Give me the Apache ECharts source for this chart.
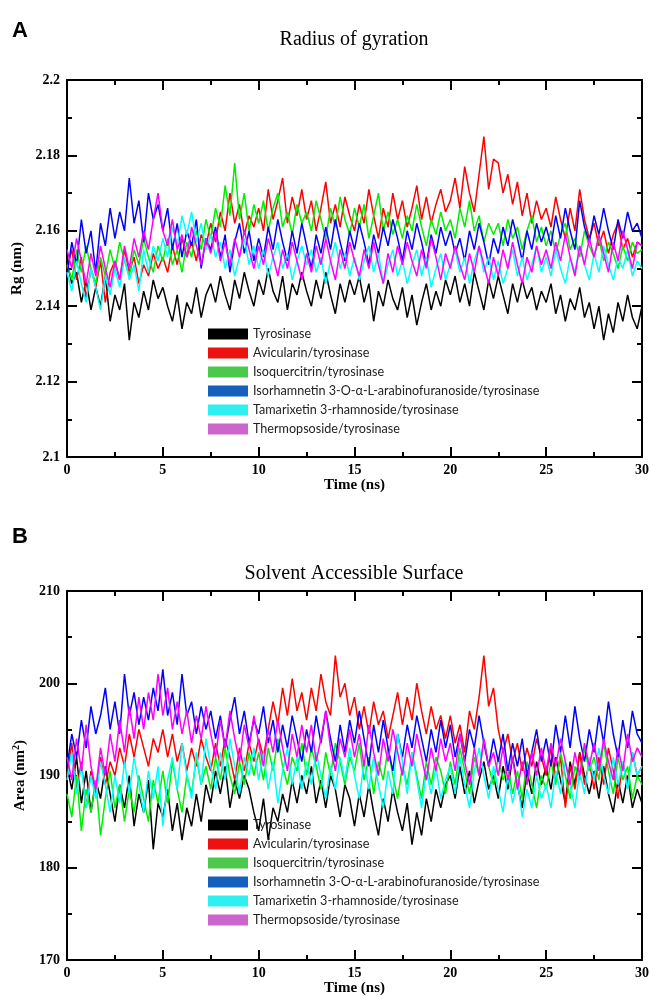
<!DOCTYPE html>
<html>
<head>
<meta charset="utf-8">
<script src="https://cdn.jsdelivr.net/npm/echarts@6/dist/echarts.min.js"></script>
<style>
    html, body { margin: 0; padding: 0; background: #fff; }
    #chart { width: 653px; height: 997px; }
</style>
</head>
<body>
<div id="chart"></div>
<script>
// 时间轴：0–30 ns，每 0.25 ns 取一个点
const time = Array.from({length: 121}, (_, i) => i * 0.25);

const seriesNames = [
    'Tyrosinase',
    'Avicularin/tyrosinase',
    'Isoquercitrin/tyrosinase',
    'Isorhamnetin 3-O-\u03b1-L-arabinofuranoside/tyrosinase',
    'Tamarixetin 3-rhamnoside/tyrosinase',
    'Thermopsoside/tyrosinase'
];

// A: Radius of gyration (nm)
const rgTyr = [
    2.152, 2.146, 2.149, 2.141, 2.147, 2.139, 2.145, 2.140, 2.148, 2.136,
    2.143, 2.139, 2.146, 2.131, 2.141, 2.137, 2.144, 2.139, 2.147, 2.142,
    2.145, 2.140, 2.136, 2.143, 2.134, 2.141, 2.138, 2.145, 2.137, 2.143,
    2.146, 2.141, 2.148, 2.143, 2.139, 2.147, 2.142, 2.149, 2.144, 2.140,
    2.147, 2.143, 2.150, 2.144, 2.141, 2.148, 2.139, 2.146, 2.143, 2.149,
    2.144, 2.140, 2.147, 2.142, 2.149, 2.143, 2.138, 2.146, 2.141, 2.147,
    2.143, 2.148, 2.141, 2.146, 2.136, 2.144, 2.140, 2.147, 2.142, 2.139,
    2.145, 2.137, 2.143, 2.135, 2.141, 2.146, 2.139, 2.144, 2.140, 2.147,
    2.143, 2.148, 2.141, 2.146, 2.140, 2.149, 2.144, 2.139, 2.147, 2.142,
    2.148, 2.143, 2.138, 2.146, 2.141, 2.147, 2.142, 2.145, 2.139, 2.144,
    2.141, 2.146, 2.138, 2.143, 2.136, 2.142, 2.139, 2.145, 2.137, 2.141,
    2.134, 2.140, 2.131, 2.138, 2.133, 2.141, 2.136, 2.143, 2.137, 2.134,
    2.140
];
const rgAvi = [
    2.150, 2.155, 2.147, 2.153, 2.142, 2.150, 2.145, 2.152, 2.141, 2.149,
    2.152, 2.147, 2.155, 2.149, 2.153, 2.146, 2.151, 2.148, 2.154, 2.150,
    2.153, 2.149, 2.156, 2.151, 2.158, 2.153, 2.157, 2.152, 2.159, 2.156,
    2.162, 2.157, 2.165, 2.160, 2.170, 2.162, 2.167, 2.159, 2.164, 2.161,
    2.166, 2.160, 2.171, 2.163, 2.168, 2.174, 2.162, 2.169, 2.164, 2.171,
    2.163, 2.168, 2.160, 2.166, 2.173, 2.162, 2.167, 2.161, 2.169, 2.164,
    2.160, 2.167, 2.162, 2.171, 2.164, 2.158, 2.166, 2.161, 2.170, 2.163,
    2.168, 2.161, 2.166, 2.172, 2.163, 2.169, 2.162, 2.167, 2.171, 2.165,
    2.168, 2.174, 2.166, 2.177, 2.170, 2.165, 2.175, 2.185, 2.171, 2.179,
    2.178, 2.170, 2.175, 2.167, 2.173, 2.164, 2.170, 2.162, 2.168, 2.163,
    2.166, 2.161, 2.169, 2.163, 2.158, 2.166, 2.160, 2.171, 2.163, 2.158,
    2.162, 2.156, 2.160, 2.154, 2.159, 2.162, 2.155, 2.158, 2.153, 2.157,
    2.156
];
const rgIso = [
    2.151, 2.147, 2.155, 2.149, 2.156, 2.150, 2.146, 2.153, 2.148, 2.155,
    2.150, 2.157, 2.152, 2.148, 2.155, 2.151, 2.158, 2.153, 2.149, 2.156,
    2.152, 2.158, 2.151, 2.155, 2.149, 2.157, 2.153, 2.160, 2.155, 2.163,
    2.158, 2.166, 2.161, 2.172, 2.164, 2.178, 2.163, 2.170, 2.160, 2.167,
    2.162, 2.168, 2.160, 2.166, 2.170, 2.161, 2.165, 2.159, 2.167, 2.162,
    2.165, 2.160, 2.168, 2.163, 2.158, 2.166, 2.161, 2.169, 2.163, 2.159,
    2.166, 2.161, 2.167, 2.158, 2.164, 2.170, 2.160, 2.165, 2.159, 2.163,
    2.158, 2.164, 2.160, 2.167, 2.161, 2.156, 2.163, 2.159, 2.165, 2.160,
    2.163, 2.158, 2.166, 2.161, 2.168, 2.160, 2.164, 2.157, 2.162, 2.159,
    2.162, 2.156, 2.163, 2.158, 2.161, 2.155, 2.160, 2.164, 2.157, 2.161,
    2.156, 2.160, 2.154, 2.159, 2.162, 2.155, 2.158, 2.153, 2.160, 2.156,
    2.153, 2.158, 2.152, 2.157, 2.154, 2.150, 2.156, 2.152, 2.157, 2.154,
    2.155
];
const rgIsr = [
    2.148, 2.157, 2.151, 2.163, 2.154, 2.160, 2.149, 2.162, 2.156, 2.166,
    2.158, 2.165, 2.160, 2.174, 2.162, 2.168, 2.157, 2.170, 2.163, 2.167,
    2.160, 2.166, 2.155, 2.162, 2.153, 2.160, 2.156, 2.163, 2.150, 2.158,
    2.155, 2.161, 2.153, 2.159, 2.149, 2.157, 2.162, 2.154, 2.160, 2.152,
    2.158, 2.153, 2.161, 2.155, 2.163, 2.157, 2.152, 2.160, 2.154, 2.162,
    2.156, 2.150, 2.159, 2.154, 2.161, 2.155, 2.163, 2.157, 2.152, 2.160,
    2.155, 2.162, 2.157, 2.151, 2.159, 2.154, 2.161, 2.156, 2.163, 2.158,
    2.152, 2.160, 2.155, 2.162, 2.157, 2.151, 2.159, 2.154, 2.161, 2.156,
    2.160, 2.154, 2.158, 2.152, 2.160, 2.155, 2.162, 2.157, 2.151, 2.158,
    2.154, 2.161, 2.156, 2.163, 2.158, 2.152, 2.160, 2.155, 2.162, 2.157,
    2.161, 2.156, 2.164, 2.158, 2.166, 2.160, 2.155, 2.168, 2.161, 2.157,
    2.164, 2.159, 2.166, 2.160, 2.155, 2.163, 2.158, 2.165, 2.160, 2.162,
    2.158
];
const rgTam = [
    2.149, 2.144, 2.152, 2.146, 2.141, 2.150, 2.145, 2.139, 2.148, 2.143,
    2.150, 2.145, 2.153, 2.147, 2.151, 2.144, 2.155, 2.149, 2.156, 2.152,
    2.158, 2.153, 2.161, 2.156, 2.164, 2.159, 2.165, 2.157, 2.162, 2.155,
    2.159, 2.153, 2.157, 2.150, 2.155, 2.148, 2.153, 2.158, 2.151, 2.156,
    2.150, 2.155, 2.148, 2.153, 2.157, 2.150, 2.154, 2.147, 2.152, 2.156,
    2.151, 2.155, 2.149, 2.153, 2.146, 2.152, 2.157, 2.150, 2.154, 2.148,
    2.153, 2.147, 2.152, 2.156, 2.149, 2.154, 2.146, 2.151, 2.155, 2.148,
    2.152, 2.146, 2.151, 2.155, 2.148, 2.153, 2.145, 2.150, 2.154, 2.147,
    2.151, 2.155, 2.149, 2.153, 2.146, 2.152, 2.156, 2.149, 2.153, 2.147,
    2.152, 2.146, 2.150, 2.155, 2.148, 2.153, 2.147, 2.151, 2.156, 2.149,
    2.153, 2.148, 2.155, 2.150, 2.146, 2.153, 2.149, 2.156, 2.151, 2.147,
    2.154, 2.149, 2.156, 2.151, 2.147, 2.153, 2.150, 2.155, 2.148, 2.152,
    2.150
];
const rgThe = [
    2.155, 2.150, 2.158, 2.152, 2.146, 2.154, 2.148, 2.156, 2.150, 2.145,
    2.152, 2.147, 2.156, 2.150, 2.158, 2.153, 2.160, 2.155, 2.163, 2.170,
    2.160, 2.156, 2.163, 2.155, 2.159, 2.153, 2.161, 2.156, 2.151, 2.158,
    2.154, 2.160, 2.152, 2.157, 2.151, 2.158, 2.153, 2.160, 2.155, 2.150,
    2.156, 2.151, 2.158, 2.153, 2.148, 2.155, 2.150, 2.157, 2.152, 2.147,
    2.154, 2.149, 2.156, 2.151, 2.158, 2.152, 2.147, 2.155, 2.150, 2.157,
    2.152, 2.148, 2.155, 2.150, 2.157, 2.151, 2.146, 2.154, 2.149, 2.156,
    2.151, 2.157, 2.152, 2.148, 2.155, 2.150, 2.158, 2.153, 2.147, 2.154,
    2.150, 2.156, 2.151, 2.147, 2.154, 2.149, 2.156, 2.151, 2.146, 2.153,
    2.148, 2.155, 2.150, 2.157, 2.151, 2.146, 2.153, 2.149, 2.156, 2.151,
    2.155, 2.150, 2.157, 2.152, 2.159, 2.153, 2.148, 2.156, 2.151, 2.158,
    2.153, 2.159, 2.154, 2.149, 2.157, 2.152, 2.160, 2.155, 2.150, 2.157,
    2.156
];

// B: Solvent accessible surface area (nm^2)
const saTyr = [
    191.0, 188.5, 192.0, 187.0, 190.5, 186.0, 189.5, 187.5, 191.0, 188.0,
    185.0, 189.0, 186.5, 190.0, 184.5, 188.0, 186.0, 189.5, 182.0, 187.0,
    185.5, 188.5, 184.0, 187.0, 183.0, 186.5, 184.5, 188.0, 185.0, 189.0,
    187.0, 190.5, 188.0, 191.0, 186.5, 189.5, 187.5, 190.0, 188.5, 186.0,
    184.0, 187.5, 183.0, 186.5, 185.0, 188.0, 186.0, 189.5, 187.0, 190.0,
    188.0, 191.0, 187.0, 189.5, 186.5, 190.0, 188.5, 185.5, 189.0, 187.5,
    184.5, 188.0, 185.5, 189.0, 186.0, 183.5, 187.5, 185.0, 188.5, 186.0,
    184.0, 187.0, 182.5, 186.0, 183.5, 187.5, 185.0, 188.5, 186.5, 189.0,
    190.0, 187.5, 191.0, 188.0, 190.5, 187.0, 189.5, 191.5, 188.5, 190.0,
    187.5, 191.0, 188.5, 192.0, 189.0, 186.5, 190.5, 188.0, 191.5, 189.0,
    191.0, 188.5, 192.0, 189.5, 187.0, 191.5, 189.0, 192.5, 190.0, 188.0,
    190.5, 187.5, 191.0, 188.0, 186.0, 189.5, 187.0, 190.0, 186.5, 188.5,
    187.0
];
const saAvi = [
    190.0, 193.5, 188.5, 191.5, 186.5, 190.5, 188.0, 192.0, 189.0, 191.5,
    190.0, 193.0, 191.0, 194.5, 192.0, 195.0, 193.0, 191.0, 194.0, 192.5,
    195.0, 192.0, 194.5, 191.5, 193.5, 190.5, 193.0, 191.0, 194.0, 192.0,
    190.5, 193.5, 191.0, 194.0, 192.0, 189.5, 193.0, 190.5, 193.5, 191.5,
    194.0, 192.0, 195.0, 198.0, 195.5, 199.5, 196.5, 200.5, 197.0, 199.0,
    196.0, 199.5, 197.0, 201.0, 198.0, 196.5, 203.0, 198.5, 200.0, 196.5,
    198.5, 195.0, 197.5, 194.5, 198.0, 195.5, 197.0, 194.0, 196.5, 199.0,
    195.5, 198.5, 196.0, 200.0, 197.0, 194.5, 197.5, 195.0, 196.5, 194.0,
    196.5, 193.5, 195.5, 192.5, 197.0, 195.0, 198.5, 203.0, 197.5, 199.5,
    195.0, 192.5, 194.5, 191.5, 193.5, 190.5, 193.0, 191.0, 194.0, 192.0,
    190.0, 193.0, 189.5, 192.0, 186.5, 191.0, 188.5, 192.5, 189.0, 191.5,
    188.5, 192.0, 189.0, 193.0, 190.5, 187.5, 191.5, 189.0, 192.5, 190.0,
    191.0
];
const saIso = [
    188.0, 185.5, 190.0, 184.0, 188.5, 186.0, 189.5, 183.5, 187.5, 190.5,
    186.5, 189.0, 185.0, 188.5, 186.0, 190.0, 187.5, 185.0, 189.5, 187.0,
    190.5, 187.0, 191.5, 188.5, 186.0, 190.0, 188.0, 192.0, 189.0, 191.0,
    188.5, 192.0, 189.5, 193.0, 190.0, 188.0, 191.5, 189.0, 192.5, 190.0,
    192.5, 189.5, 193.0, 190.5, 194.0, 191.0, 189.0, 192.0, 190.5, 193.5,
    190.0, 193.0, 191.0, 188.5, 192.5, 190.0, 193.5, 191.5, 189.0, 192.0,
    190.5, 193.5, 189.5, 192.0, 188.0, 191.5, 189.5, 193.0, 190.0, 187.5,
    191.0, 189.0, 192.5, 190.0, 187.5, 191.5, 189.0, 192.0, 190.5, 188.0,
    191.5, 189.0, 193.0, 190.5, 188.0, 192.0, 190.0, 194.0, 191.0, 189.0,
    192.0, 189.5, 191.0, 188.0, 190.5, 187.5, 191.5, 189.0, 186.5, 190.0,
    188.5, 191.5, 189.0, 192.5, 190.0, 187.5, 191.0, 189.5, 193.0, 190.5,
    192.0, 189.5, 193.5, 190.5, 188.0, 192.0, 189.5, 191.0, 187.5, 190.0,
    189.0
];
const saIsr = [
    191.0, 194.5, 192.0, 196.0, 193.0, 197.5, 194.5, 196.5, 199.5, 195.0,
    198.0, 194.5, 201.0, 196.5, 199.0, 195.5, 198.5, 196.0, 199.5, 197.0,
    201.5, 196.5, 199.0, 195.5, 201.0, 196.5, 198.0, 194.5, 197.5, 195.0,
    197.0, 194.0, 196.5, 193.0, 196.0, 198.5, 194.5, 197.0, 193.5, 196.0,
    194.5, 197.5, 193.5, 196.0, 192.5, 195.5, 193.0, 196.5, 194.0, 191.5,
    195.0, 192.5, 196.5, 193.5, 197.0, 194.0, 191.5, 195.5, 192.5, 196.0,
    193.5, 197.0, 194.0, 191.0, 195.5, 192.5, 196.0, 193.0, 190.5, 194.5,
    192.0, 195.5, 193.0, 196.5, 194.0, 191.5, 195.0, 192.5, 196.0, 193.0,
    195.5, 192.0, 194.5, 191.5, 195.0, 193.0, 196.5, 193.5, 191.0, 194.0,
    191.5, 194.5, 190.5, 193.5, 191.0, 194.0, 190.0, 192.5, 195.0, 191.5,
    194.0, 191.0, 195.5, 192.5, 196.5, 193.0, 197.5, 194.0, 191.5, 195.0,
    192.5, 196.5, 193.5, 198.0, 194.5, 192.0, 196.0, 193.0, 197.0, 194.5,
    193.5
];
const saTam = [
    189.5, 192.5, 188.0, 191.0, 186.5, 190.0, 187.5, 191.5, 189.0, 186.0,
    190.0, 187.0, 191.5, 188.0, 192.0, 189.0, 186.0, 190.5, 187.5, 191.0,
    184.5, 189.5, 192.0, 188.5, 193.5, 190.0, 187.5, 192.5, 189.0, 194.0,
    191.0, 188.5, 192.5, 189.5, 194.0, 191.0, 188.0, 192.0, 190.0, 193.0,
    189.5, 192.5, 188.5, 191.5, 187.0, 190.5, 193.0, 189.0, 192.0, 188.5,
    191.5, 189.0, 192.5, 190.0, 187.5, 191.0, 188.5, 192.0, 189.5, 193.0,
    190.0, 187.5, 191.5, 188.5, 192.0, 189.0, 186.5, 190.5, 188.0, 194.5,
    191.5, 188.0, 192.5, 189.5, 186.5, 190.5, 188.0, 191.0, 187.5, 189.5,
    191.0, 188.0, 192.0, 189.0, 186.5, 190.5, 193.0, 190.0, 187.5, 191.0,
    188.5, 186.0, 190.0, 187.0, 189.5, 185.5, 188.5, 186.5, 190.0, 187.5,
    189.0, 186.5, 190.5, 188.0, 191.5, 189.0, 186.5, 190.5, 188.0, 192.0,
    189.5, 193.0, 190.0, 188.0, 192.0, 189.0, 191.5, 188.5, 192.5, 190.0,
    191.0
];
const saThe = [
    192.0, 189.5, 194.0, 190.5, 195.5, 191.0, 188.5, 193.0, 190.0, 194.5,
    191.5, 196.0, 192.5, 197.5, 194.0, 198.5, 195.0, 199.0, 196.0, 201.0,
    196.5, 199.5, 195.0, 198.0, 194.5, 197.0, 193.5, 196.5, 194.0, 197.5,
    194.5, 192.0, 196.0, 193.0, 197.0, 194.0, 191.5, 195.5, 193.0, 196.5,
    193.5, 191.0, 195.0, 192.5, 196.0, 193.0, 190.5, 194.5, 192.0, 195.5,
    192.5, 195.5, 191.5, 194.0, 197.0, 193.0, 190.5, 194.0, 192.0, 195.0,
    192.0, 194.5, 191.0, 195.5, 192.5, 190.0, 194.0, 191.5, 195.0, 192.5,
    190.0, 193.5, 191.0, 194.5, 192.0, 189.5, 193.0, 190.5, 194.0, 191.5,
    193.5, 190.5, 194.5, 191.5, 189.0, 193.0, 190.0, 194.0, 191.0, 192.5,
    190.0, 193.0, 189.5, 192.0, 188.5, 191.5, 189.0, 192.5, 190.0, 193.0,
    190.5, 193.5, 191.0, 194.0, 191.5, 189.0, 192.5, 190.0, 193.5, 191.0,
    193.5, 190.5, 194.0, 191.5, 189.5, 193.0, 190.5, 194.5, 191.5, 193.0,
    192.0
];

// 线条颜色（xmgrace 默认色）与图例色块颜色
const lineColors = ['#000000', '#ff0000', '#00ee00', '#0000ff', '#00ffff', '#ff00ff'];
const legendColors = ['#000000', '#ee1111', '#4cc94c', '#1560bd', '#2ef0f0', '#cc66cc'];

const serif = '"Liberation Serif", "Times New Roman", serif';

const myChart = echarts.init(document.getElementById('chart'), null, {renderer: 'canvas'});

function pairs(vals) {
    return vals.map((v, i) => [time[i], v]);
}

// 四周框线 + 向内刻度
function xAxisPair(gridIndex, withName) {
    const base = {
        gridIndex: gridIndex,
        type: 'value',
        min: 0,
        max: 30,
        interval: 5,
        axisLine: {show: true, onZero: false, lineStyle: {color: '#000', width: 2}},
        axisTick: {show: true, inside: true, length: 10, lineStyle: {color: '#000', width: 2}},
        minorTick: {show: true, splitNumber: 2, length: 5, lineStyle: {color: '#000', width: 2}},
        splitLine: {show: false}
    };
    return [
        Object.assign({}, base, {
            position: 'bottom',
            name: withName,
            nameLocation: 'middle',
            nameGap: 21,
            nameTextStyle: {fontFamily: serif, fontWeight: 'bold', fontSize: 15, color: '#000'},
            axisLabel: {fontFamily: serif, fontWeight: 'bold', fontSize: 14, color: '#000', margin: 6}
        }),
        Object.assign({}, base, {position: 'top', axisLabel: {show: false}})
    ];
}

function yAxisPair(gridIndex, min, max, interval, name, nameRich) {
    const base = {
        gridIndex: gridIndex,
        type: 'value',
        min: min,
        max: max,
        interval: interval,
        axisLine: {show: true, onZero: false, lineStyle: {color: '#000', width: 2}},
        axisTick: {show: true, inside: true, length: 10, lineStyle: {color: '#000', width: 2}},
        minorTick: {show: true, splitNumber: 2, length: 5, lineStyle: {color: '#000', width: 2}},
        splitLine: {show: false}
    };
    return [
        Object.assign({}, base, {
            position: 'left',
            name: name,
            nameLocation: 'middle',
            nameGap: 34,
            nameRotate: 90,
            nameTextStyle: {fontFamily: serif, fontWeight: 'bold', fontSize: 15, color: '#000', rich: nameRich},
            axisLabel: {fontFamily: serif, fontWeight: 'bold', fontSize: 14, color: '#000', margin: 7}
        }),
        Object.assign({}, base, {position: 'right', axisLabel: {show: false}})
    ];
}

function legendFor(top) {
    return {
        orient: 'vertical',
        left: 203,
        top: top,
        icon: 'rect',
        itemWidth: 40,
        itemHeight: 11,
        itemGap: 5,
        textStyle: {fontFamily: 'Lato, "Open Sans", sans-serif', fontSize: 12.6, color: '#222', lineHeight: 14},
        data: seriesNames.map((n, i) => ({name: n, itemStyle: {color: legendColors[i]}}))
    };
}

const rgData = [rgTyr, rgAvi, rgIso, rgIsr, rgTam, rgThe];
const saData = [saTyr, saAvi, saIso, saIsr, saTam, saThe];

const series = [];
rgData.forEach((d, i) => series.push({
    name: seriesNames[i], type: 'line', xAxisIndex: 0, yAxisIndex: 0,
    data: pairs(d), showSymbol: false, color: lineColors[i],
    lineStyle: {width: 1.5, color: lineColors[i]}
}));
saData.forEach((d, i) => series.push({
    name: seriesNames[i], type: 'line', xAxisIndex: 2, yAxisIndex: 2,
    data: pairs(d), showSymbol: false, color: lineColors[i],
    lineStyle: {width: 1.5, color: lineColors[i]}
}));

const option = {
    animation: false,
    backgroundColor: '#fff',
    graphic: [
        {type: 'text', x: 12, y: 20, style: {text: 'A', font: 'bold 22px "Liberation Sans", sans-serif', fill: '#000'}},
        {type: 'text', x: 354, y: 40, style: {text: 'Radius of gyration', font: '20px ' + serif, fill: '#000',
            align: 'center', verticalAlign: 'middle', textAlign: 'center', textVerticalAlign: 'middle'}},
        {type: 'text', x: 12, y: 526, style: {text: 'B', font: 'bold 22px "Liberation Sans", sans-serif', fill: '#000'}},
        {type: 'text', x: 354, y: 574, style: {text: 'Solvent Accessible Surface', font: '20px ' + serif, fill: '#000',
            align: 'center', verticalAlign: 'middle', textAlign: 'center', textVerticalAlign: 'middle'}}
    ],
    grid: [
        {left: 67, right: 11, top: 80, height: 377},
        {left: 67, right: 11, top: 591, height: 373}
    ],
    xAxis: [].concat(xAxisPair(0, 'Time (ns)'), xAxisPair(1, 'Time (ns)')),
    yAxis: [].concat(
        yAxisPair(0, 2.1, 2.2, 0.02, 'Rg (nm)'),
        yAxisPair(1, 170, 210, 10, 'Area (nm{sup|2})', {sup: {fontFamily: serif, fontWeight: 'bold', fontSize: 10, verticalAlign: 'top', padding: [0, 0, 8, 0]}})
    ),
    legend: [legendFor(322), legendFor(813)],
    series: series
};

myChart.setOption(option);
</script>
</body>
</html>
